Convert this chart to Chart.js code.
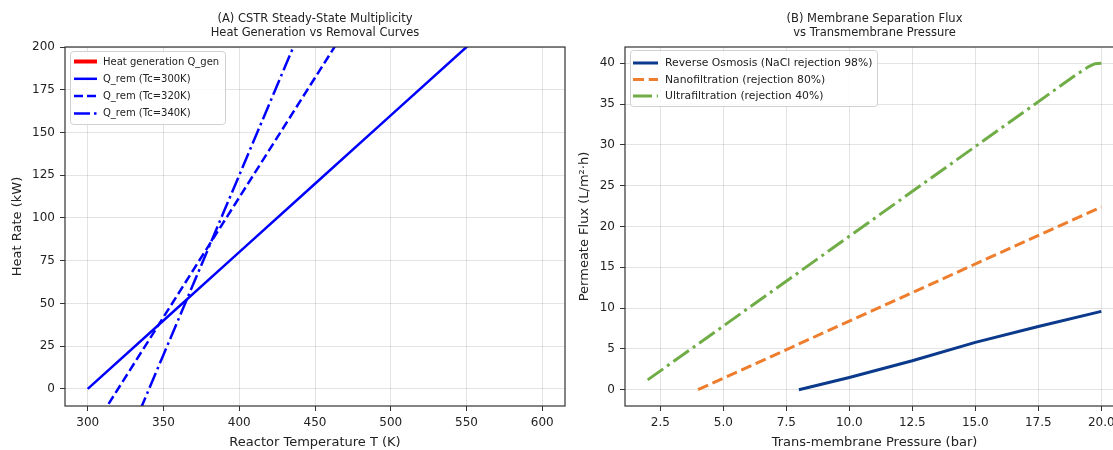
<!DOCTYPE html>
<html><head><meta charset="utf-8">
<script src="https://cdn.jsdelivr.net/npm/chart.js@4.4.1/dist/chart.umd.min.js"></script>
<style>
html,body{margin:0;padding:0;background:#fff;overflow:hidden;width:1113px;height:450px;}
#c1{position:absolute;left:0;top:0;}
#c2{position:absolute;left:575px;top:0;}
</style></head><body>
<canvas id="c1" width="575" height="450"></canvas>
<canvas id="c2" width="560" height="450"></canvas>
<script>
// ---------- Panel A data ----------
const tempK   = [300, 350, 400, 450, 500, 550, 600];
const qGen    = [];                                   // not visible within axis range
const qRem300 = [0, 40, 80, 120, 160, 200, 240];
const qRem320 = [-28, 42, 112, 182, 252, 322, 392];
const qRem340 = [-85, 20, 125, 230, 335, 440, 545];
const tempTicks = [300, 350, 400, 450, 500, 550, 600];
const heatTicks = [0, 25, 50, 75, 100, 125, 150, 175, 200];

// ---------- Panel B data ----------
const roP    = [8, 10, 12.5, 15, 17.5, 20];
const roFlux = [0, 1.5, 3.55, 5.8, 7.75, 9.6];
const nfP    = [4, 8, 12, 16, 20];
const nfFlux = [0, 5.6, 11.2, 16.8, 22.4];
const ufP    = [2, 4, 6, 8, 10, 12, 14, 16, 18, 19, 19.5, 19.75, 20];
const ufFlux = [1.2, 5.6, 10, 14.4, 18.8, 23.2, 27.6, 32, 36.4, 38.6, 39.6, 39.95, 40];
const pressTicks = [2.5, 5, 7.5, 10, 12.5, 15, 17.5, 20];
const fluxTicks  = [0, 5, 10, 15, 20, 25, 30, 35, 40];

const FONT = "'DejaVu Sans', sans-serif";
const TXT = '#222';
const GRID = 'rgba(176,176,176,0.35)';

const pts = (xs, ys) => xs.map((x, i) => ({x, y: ys[i]}));

const framePlugin = {
  id: 'frame',
  afterDatasetsDraw(chart) {
    const {ctx, chartArea: a} = chart;
    ctx.save();
    ctx.strokeStyle = '#333';
    ctx.lineWidth = 1.2;
    ctx.strokeRect(a.left, a.top, a.right - a.left, a.bottom - a.top);
    ctx.restore();
  }
};

const boxLegend = {
  id: 'boxLegend',
  afterDraw(chart, args, o) {
    const {ctx, chartArea: a} = chart;
    const x = a.left + o.dx, y = a.top + o.dy;
    ctx.save();
    ctx.beginPath();
    ctx.roundRect(x + 0.5, y + 0.5, o.w, o.h, 3);
    ctx.fillStyle = 'rgba(255,255,255,0.85)';
    ctx.fill();
    ctx.strokeStyle = '#d0d0d0';
    ctx.lineWidth = 1;
    ctx.stroke();
    chart.data.datasets.forEach((d, i) => {
      const cy = y + o.firstRow + i * o.rowGap;
      ctx.beginPath();
      ctx.setLineDash(d.borderDash || []);
      ctx.lineCap = 'butt';
      ctx.lineWidth = d.legendWidth || d.borderWidth;
      ctx.strokeStyle = d.borderColor;
      ctx.moveTo(x + o.lineX0, cy);
      ctx.lineTo(x + o.lineX1, cy);
      ctx.stroke();
      ctx.setLineDash([]);
      ctx.fillStyle = TXT;
      ctx.font = o.fontSize + 'px ' + FONT;
      ctx.textBaseline = 'middle';
      ctx.textAlign = 'left';
      ctx.fillText(d.label, x + o.textX, cy + 0.5);
    });
    ctx.restore();
  }
};

function axisCommon(tickArr, fmt, titleText, isX, fixed) {
  return {
    type: 'linear',
    afterBuildTicks: s => { s.ticks = tickArr.map(v => ({value: v})); },
    afterFit: s => { if (isX) s.height = fixed; else s.width = fixed; },
    ticks: {
      font: {family: FONT, size: 12},
      color: TXT,
      padding: 5,
      autoSkip: false,
      maxRotation: 0,
      callback: v => fmt(v)
    },
    grid: {color: GRID, lineWidth: 1, drawTicks: true, tickLength: 5, tickColor: '#333', tickWidth: 1},
    border: {display: false},
    title: {
      display: true, text: titleText, color: TXT,
      font: {family: FONT, size: 13, lineHeight: 1.2},
      padding: {top: 0, bottom: 0}
    }
  };
}

// ---------- Chart A ----------
const xA = axisCommon(tempTicks, v => String(v), 'Reactor Temperature T (K)', true, 44);
xA.min = 285; xA.max = 615;
const yA = axisCommon(heatTicks, v => String(v), 'Heat Rate (kW)', false, 65);
yA.min = -10; yA.max = 200;
yA.title.padding = {top: 10, bottom: 0};

new Chart(document.getElementById('c1'), {
  type: 'line',
  data: {
    datasets: [
      {label: 'Heat generation Q_gen', data: pts(tempK, qGen), borderColor: '#ff0000', borderWidth: 2.5, legendWidth: 4},
      {label: 'Q_rem (Tc=300K)', data: pts(tempK, qRem300), borderColor: '#0000ff', borderWidth: 2.5},
      {label: 'Q_rem (Tc=320K)', data: pts(tempK, qRem320), borderColor: '#0000ff', borderWidth: 2.5, borderDash: [9, 4]},
      {label: 'Q_rem (Tc=340K)', data: pts(tempK, qRem340), borderColor: '#0000ff', borderWidth: 2.5, borderDash: [16, 4, 2.5, 4]}
    ]
  },
  options: {
    responsive: false,
    animation: false,
    devicePixelRatio: 1,
    parsing: false,
    elements: {point: {radius: 0}, line: {tension: 0, fill: false}},
    datasets: {line: {clip: 0}},
    layout: {padding: {left: 0, right: 10, top: 0, bottom: 0}},
    scales: {x: xA, y: yA},
    plugins: {
      legend: {display: false},
      tooltip: {enabled: false},
      title: {
        display: true, fullSize: false,
        text: ['(A) CSTR Steady-State Multiplicity', 'Heat Generation vs Removal Curves'],
        color: TXT, font: {family: FONT, size: 11.5, weight: 'normal', lineHeight: 1.2},
        padding: {top: 12, bottom: 7.4}
      },
      boxLegend: {dx: 5, dy: 4, w: 155, h: 73, firstRow: 10.5, rowGap: 17.3, lineX0: 4, lineX1: 27, textX: 33, fontSize: 10}
    }
  },
  plugins: [framePlugin, boxLegend]
});

// ---------- Chart B ----------
const xB = axisCommon(pressTicks, v => v.toFixed(1), 'Trans-membrane Pressure (bar)', true, 44);
xB.min = 1.1; xB.max = 20.9;
const yB = axisCommon(fluxTicks, v => String(v), 'Permeate Flux (L/m²·h)', false, 50);
yB.min = -2; yB.max = 42;
yB.title.padding = {top: 2, bottom: 0};

new Chart(document.getElementById('c2'), {
  type: 'line',
  data: {
    datasets: [
      {label: 'Reverse Osmosis (NaCl rejection 98%)', data: pts(roP, roFlux), borderColor: '#0b3a8c', borderWidth: 3},
      {label: 'Nanofiltration (rejection 80%)', data: pts(nfP, nfFlux), borderColor: '#ee7d2d', borderWidth: 3, borderDash: [11, 4.8]},
      {label: 'Ultrafiltration (rejection 40%)', data: pts(ufP, ufFlux), borderColor: '#70ad47', borderWidth: 3, borderDash: [19, 4.8, 3, 4.8]}
    ]
  },
  options: {
    responsive: false,
    animation: false,
    devicePixelRatio: 1,
    parsing: false,
    elements: {point: {radius: 0}, line: {tension: 0, fill: false}},
    datasets: {line: {clip: 0}},
    layout: {padding: {left: 0, right: 11, top: 0, bottom: 0}},
    scales: {x: xB, y: yB},
    plugins: {
      legend: {display: false},
      tooltip: {enabled: false},
      title: {
        display: true, fullSize: false,
        text: ['(B) Membrane Separation Flux', 'vs Transmembrane Pressure'],
        color: TXT, font: {family: FONT, size: 11.5, weight: 'normal', lineHeight: 1.2},
        padding: {top: 12, bottom: 7.4}
      },
      boxLegend: {dx: 5, dy: 3, w: 247, h: 56, firstRow: 13, rowGap: 16.5, lineX0: 3, lineX1: 28, textX: 35, fontSize: 10.8}
    }
  },
  plugins: [framePlugin, boxLegend]
});
</script>
</body></html>
